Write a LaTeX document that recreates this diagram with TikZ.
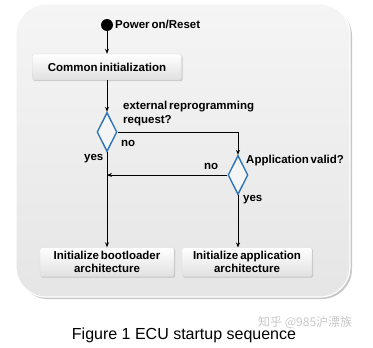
\documentclass[tikz,border=0pt]{standalone}
\usepackage{fontspec}
\setmainfont{Liberation Sans}[WordSpace=0.6]
\newfontfamily\capfont{Liberation Sans}
\newfontfamily\cjk{Noto Sans CJK SC}
\usetikzlibrary{shapes.geometric,arrows.meta,shadows}
\definecolor{panel}{HTML}{EEEEEE}
\definecolor{dblue}{HTML}{2E75B6}
\begin{document}
\begin{tikzpicture}[x=1pt,y=-1pt,
  every node/.style={inner sep=0pt,font=\bfseries\fontsize{11.5}{13}\selectfont},
  stepbox/.style={draw=white!85!black,line width=0.4pt,rounded corners=2pt,
    top color=white,bottom color=white!88!black,
    drop shadow={shadow xshift=1pt,shadow yshift=-1.2pt,opacity=0.35},
    align=center},
  decision/.style={diamond,draw=dblue,line width=1.4pt,fill=white!96!black,
    minimum width=20pt,minimum height=39pt,inner sep=0pt},
  flow/.style={line width=0.9pt,-{Stealth[length=5pt,width=4pt]}},
  plain/.style={line width=0.9pt},
  lbl/.style={anchor=west,align=left}]
\useasboundingbox (0,0) rectangle (373,348);
% panel
\fill[black!22,rounded corners=30pt] (18,6) rectangle (352,299);
\draw[white,line width=1.2pt,top color=white!96!black,bottom color=white!90!black,rounded corners=30pt] (16,4) rectangle (350,297);
% start
\node[circle,fill=black,minimum size=12pt,inner sep=0pt] (start) at (107,25) {};
\node[lbl] (startlbl) at (115,24.5) {Power on/Reset};
% boxes
\node[stepbox,minimum width=149pt,minimum height=26pt] (common) at (107,67) {Common initialization};
\node[decision] (d1) at (107,132) {};
\node[decision] (d2) at (238,175) {};
\node[stepbox,minimum width=134pt,minimum height=29pt,font=\bfseries\fontsize{11.5}{13}\selectfont] (boot) at (107,262) {Initialize bootloader\\architecture};
\node[stepbox,minimum width=130pt,minimum height=29pt,font=\bfseries\fontsize{11.5}{13}\selectfont] (app) at (247,262) {Initialize application\\architecture};
% labels
\node[lbl,font=\bfseries\fontsize{11.5}{14}\selectfont] (q1) at (123,114) {external reprogramming\\request?};
\node[lbl] (no1) at (121,143) {no};
\node[lbl] (yes1) at (84,159) {yes};
\node[lbl] (q2) at (246,161) {Application valid?};
\node[lbl] (no2) at (204,166) {no};
\node[lbl] (yes2) at (243,200) {yes};
% connectors
\draw[flow] (start) -- (common);
\draw[flow] (common) -- (d1.north);
\draw[plain] (d1.east) -| (238,140);
\draw[flow] (238,140) -- (d2.north);
\coordinate (join) at (107,175);
\draw[flow] (d2.west) -- (join);
\draw[flow] (d1.south) -- (boot.north);
\draw[flow] (d2.south) -- (238,247.5);
% caption
\node[font=\capfont\fontsize{16}{18}\selectfont] (cap) at (184,335) {Figure 1 ECU startup sequence};
\node[font=\cjk\fontsize{12}{14}\selectfont,text=black!22,anchor=west] (wm) at (258,322) {知乎 @985沪漂族};
\end{tikzpicture}
\end{document}
